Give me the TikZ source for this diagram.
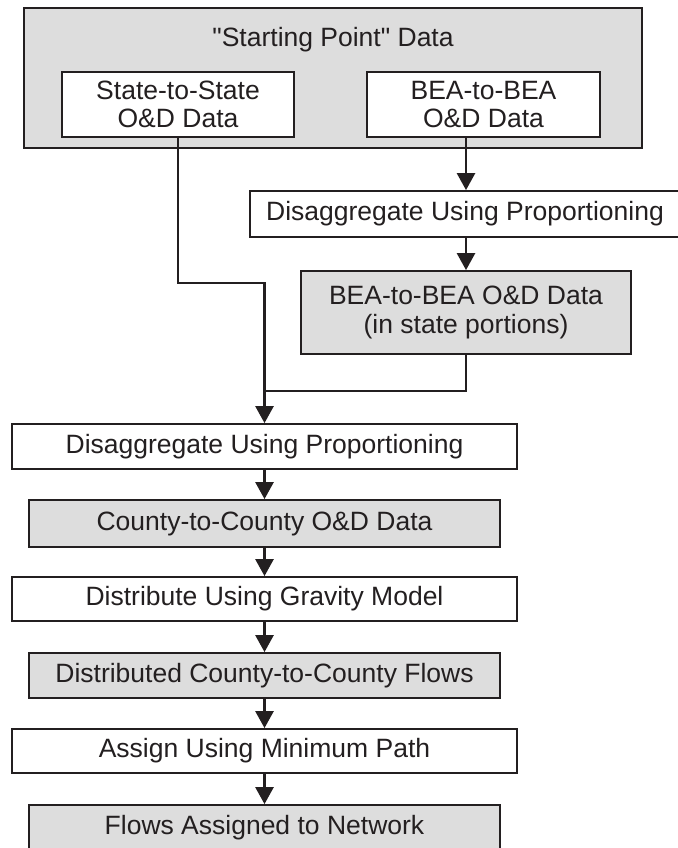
\documentclass[tikz,border=0pt]{standalone}
\usepackage{fontspec}
\setmainfont{Liberation Sans}[Ligatures=TeXOff]
\usetikzlibrary{arrows.meta}
\definecolor{boxgray}{RGB}{221,221,221}
\definecolor{ink}{RGB}{35,31,32}
\tikzset{
  every node/.style={font=\fontsize{26.5}{28.5}\selectfont, text=ink, align=center, inner sep=0pt},
  wbox/.style={draw=ink, line width=1.8pt, fill=white},
  gbox/.style={draw=ink, line width=1.8pt, fill=boxgray},
  size/.style 2 args={minimum width=#1pt, minimum height=#2pt},
  link/.style={draw=ink, line width=2.6pt},
  flow/.style={link, -{Triangle[width=18pt,length=17pt]}}
}
\begin{document}
\begin{tikzpicture}[x=1pt,y=-1pt]
\useasboundingbox (0,0) rectangle (677,848);

% source data panel
\node[gbox, line width=2.2pt, size={618}{140}] (start) at (333,78) {};
\node (title) at (333,40) {"Starting Point" Data};
\node[wbox, line width=1.4pt, size={232}{65}] (sts) at (178,104.5) {State-to-State\\O\&D Data};
\node[wbox, line width=1.4pt, size={233}{65}] (bea) at (483.5,104.5) {BEA-to-BEA\\O\&D Data};

% BEA branch
\node[wbox, size={430}{46}] (dis1) at (465,214) {Disaggregate Using Proportioning};
\node[gbox, size={330}{83}] (bea2) at (466,312.5) {BEA-to-BEA O\&D Data\\(in state portions)};

% main chain
\node[wbox, size={505}{45}] (dis2) at (264.5,446.5) {Disaggregate Using Proportioning};
\node[gbox, size={471}{47}] (county) at (264.5,523.5) {County-to-County O\&D Data};
\node[wbox, size={505}{44}] (distrib) at (264.5,599) {Distribute Using Gravity Model};
\node[gbox, size={471}{45}] (distd) at (264.5,675.5) {Distributed County-to-County Flows};
\node[wbox, size={505}{44}] (assign) at (264.5,751) {Assign Using Minimum Path};
\node[gbox, size={471}{46}] (flows) at (264.5,828) {Flows Assigned to Network};

% junction points of the merging lines
\coordinate (bend) at (264.5,283);
\coordinate (join) at (264.5,391);

% connectors
\draw[flow] (bea.south -| bea2.north) -- (dis1.north -| bea2.north);
\draw[flow] (dis1.south -| bea2.north) -- (bea2.north);
\draw[link] (bea2.south) |- (join);
\draw[flow] (sts.south) |- (bend) -- (dis2.north);
\draw[flow] (dis2.south) -- (county.north);
\draw[flow] (county.south) -- (distrib.north);
\draw[flow] (distrib.south) -- (distd.north);
\draw[flow] (distd.south) -- (assign.north);
\draw[flow] (assign.south) -- (flows.north);
\end{tikzpicture}
\end{document}
